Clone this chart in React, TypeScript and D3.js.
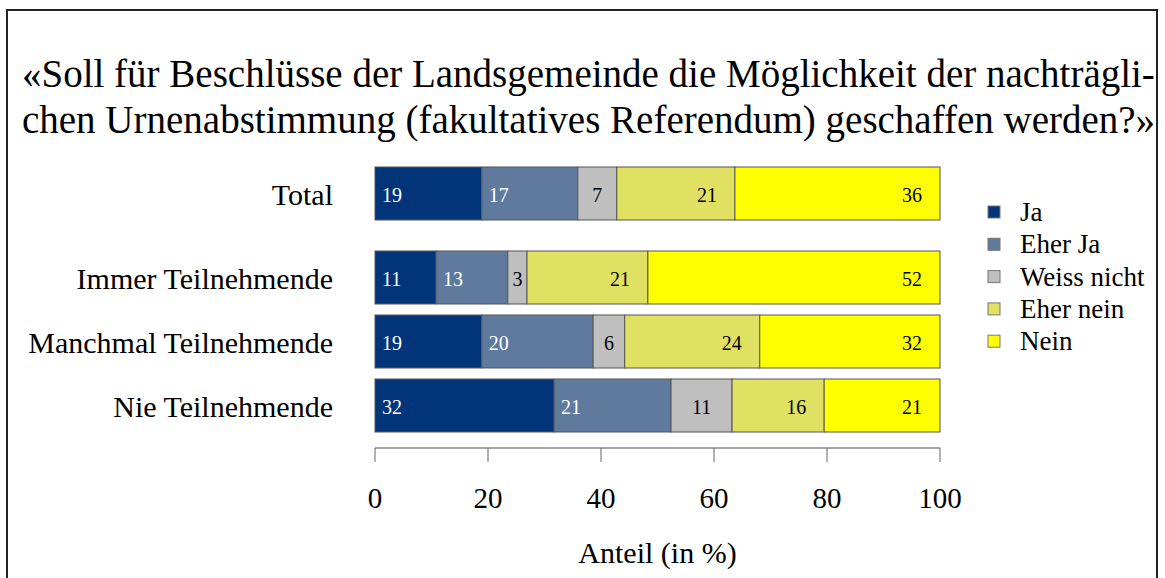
import React from "react";
import * as d3 from "d3";

const categories = ["Total", "Immer Teilnehmende", "Manchmal Teilnehmende", "Nie Teilnehmende"];
const seriesNames = ["Ja", "Eher Ja", "Weiss nicht", "Eher nein", "Nein"];
const seriesColors = ["#02347a", "#5f7a9c", "#bfbfbf", "#e0e062", "#ffff00"];
const labelColors = ["#ffffff", "#ffffff", "#000000", "#000000", "#000000"];
const labelAlign = ["start", "start", "middle", "end", "end"];
// values per category, order: Ja, Eher Ja, Weiss nicht, Eher nein, Nein
const valTotal = [18.9, 17.0, 6.9, 20.9, 36.3];
const valImmer = [10.8, 12.7, 3.4, 21.4, 51.7];
const valManchmal = [18.9, 19.7, 5.6, 23.9, 31.9];
const valNie = [31.7, 20.7, 10.8, 16.3, 20.5];
const allValues = [valTotal, valImmer, valManchmal, valNie];
const xTicks = [0, 20, 40, 60, 80, 100];
const titleLines = [
  "«Soll für Beschlüsse der Landsgemeinde die Möglichkeit der nachträgli-",
  "chen Urnenabstimmung (fakultatives Referendum) geschaffen werden?»",
];
const xTitle = "Anteil (in %)";

const W = 1165;
const H = 578;
const FONT = "'Liberation Serif', 'Times New Roman', serif";

export default function App() {
  const x = d3.scaleLinear().domain([0, 100]).range([375, 940]);
  const barTops = [167, 251, 315, 379];
  const barH = 53;
  const axisY = 448;

  return (
    <svg width={W} height={H} style={{ position: "absolute", left: 0, top: 0 }} fontFamily={FONT}>
      <rect x={0} y={0} width={W} height={H} fill="#fff" />
      <rect x={7} y={10} width={1150} height={H} fill="none" stroke="#222" strokeWidth={2} />
      {titleLines.map((t, i) => (
        <text key={i} x={22} y={87 + i * 46} fontSize={39} fill="#000">
          {t}
        </text>
      ))}
      {allValues.map((vals, ci) => {
        const cum = d3.cumsum(vals);
        const y0 = barTops[ci];
        return (
          <g key={ci}>
            <text x={333} y={y0 + barH / 2 + 1} fontSize={30} textAnchor="end" dominantBaseline="central" fill="#000">
              {categories[ci]}
            </text>
            {vals.map((v, si) => {
              const xs = x(cum[si] - v);
              const xe = x(cum[si]);
              const anchor = labelAlign[si];
              const lx = anchor === "start" ? xs + 7 : anchor === "end" ? xe - 18 : (xs + xe) / 2;
              return (
                <g key={si}>
                  <rect x={xs} y={y0} width={xe - xs} height={barH} fill={seriesColors[si]} stroke="#555" strokeWidth={1} />
                  <text x={lx} y={y0 + barH / 2 + 1} fontSize={20} textAnchor={anchor} dominantBaseline="central" fill={labelColors[si]}>
                    {Math.round(v)}
                  </text>
                </g>
              );
            })}
          </g>
        );
      })}
      <line x1={x(0)} x2={x(100)} y1={axisY} y2={axisY} stroke="#888" strokeWidth={1.5} />
      {xTicks.map((t) => (
        <g key={t}>
          <line x1={x(t)} x2={x(t)} y1={axisY} y2={axisY + 14} stroke="#666" strokeWidth={1} />
          <text x={x(t)} y={498} fontSize={29} textAnchor="middle" dominantBaseline="central" fill="#000">
            {t}
          </text>
        </g>
      ))}
      <text x={(x(0) + x(100)) / 2} y={552} fontSize={30} textAnchor="middle" dominantBaseline="central" fill="#000">
        {xTitle}
      </text>
      {seriesNames.map((s, i) => (
        <g key={s}>
          <rect x={988} y={206 + i * 32.3} width={12} height={12} fill={seriesColors[i]} stroke="#777" strokeWidth={1} />
          <text x={1020} y={212 + i * 32.3} fontSize={27} dominantBaseline="central" fill="#000">
            {s}
          </text>
        </g>
      ))}
    </svg>
  );
}
